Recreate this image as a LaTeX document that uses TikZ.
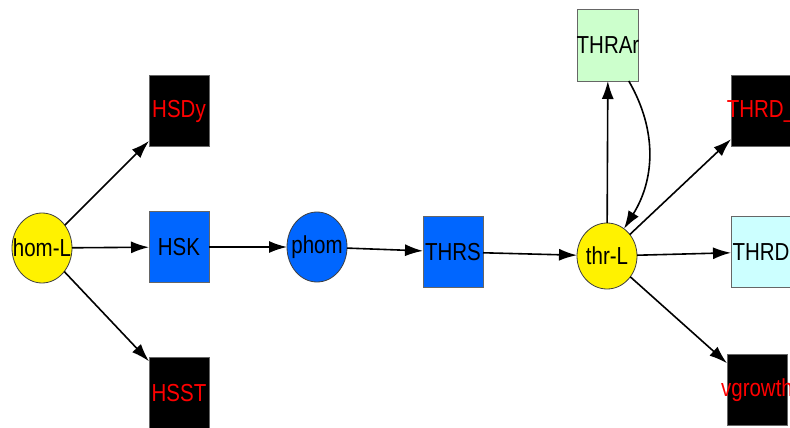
\documentclass[tikz,border=0pt]{standalone}
\usepackage{fontspec}
\setmainfont{Liberation Sans}
\usetikzlibrary{shapes.geometric,arrows.meta}
\definecolor{hblue}{HTML}{0066FF}
\definecolor{lgreen}{HTML}{CCFFCC}
\definecolor{lcyan}{HTML}{CCFFFF}
\definecolor{edgegray}{HTML}{666666}
\tikzset{
  every node/.style={font=\fontsize{20.5}{24}\selectfont, inner sep=0pt, outer sep=0pt},
  ell/.style={ellipse, draw=black!75, line width=0.8pt, minimum width=60pt, minimum height=70pt},
  sbox/.style={rectangle, draw=edgegray, line width=0.8pt, minimum width=60pt, minimum height=71pt},
  darkbox/.style={sbox, fill=black, text=red},
  link/.style={line width=1.6pt, -{Latex[length=18pt,width=12pt]}},
}
% labels are tall and narrow, and may run past their shape
\newcommand{\lab}[1]{\makebox[0pt]{\scalebox{1}[1.2]{#1}}}
\begin{document}
\begin{tikzpicture}[x=1pt,y=-1pt]
  \clip (0,0) rectangle (790,428);
  \fill[white] (0,0) rectangle (790,428);

  % left hub and its targets
  \node[ell, fill=yellow] (homL) at (42,248) {\lab{hom-L}};
  \node[darkbox] (HSDy) at (179,111) {\lab{HSDy}};
  \node[sbox, fill=hblue] (HSK) at (179,247) {\lab{HSK}};
  \node[darkbox] (HSST) at (179,393) {\lab{HSST}};

  % middle chain
  \node[ell, fill=hblue] (phom) at (317,247) {\lab{phom}};
  \node[sbox, fill=hblue] (THRS) at (453,252) {\lab{THRS}};

  % right hub and its targets
  \node[ell, fill=yellow, minimum height=66pt] (thrL) at (607,256) {\lab{thr-L}};
  \node[sbox, fill=lgreen, minimum width=61pt, minimum height=72pt] (THRAr) at (608,45) {\lab{THRAr}};
  \node[darkbox] (THRDu) at (761,111) {\lab{THRD\_}};
  \node[sbox, fill=lcyan] (THRD) at (761,252) {\lab{THRD}};
  \node[darkbox] (vgrowth) at (757,390) {\lab{vgrowth}};

  % connectors
  \draw[link] (homL) -- (HSDy);
  \draw[link] (homL) -- (HSK);
  \draw[link] (homL) -- (HSST);
  \draw[link] (HSK) -- (phom);
  \draw[link] (phom) -- (THRS);
  \draw[link] (THRS) -- (thrL);
  \draw[link] (thrL) -- (THRAr);
  \draw[link] (THRAr) to[out=-60, in=58] (thrL);
  \draw[link] (thrL) -- (THRDu);
  \draw[link] (thrL) -- (THRD);
  \draw[link] (thrL) -- (vgrowth);
\end{tikzpicture}
\end{document}
